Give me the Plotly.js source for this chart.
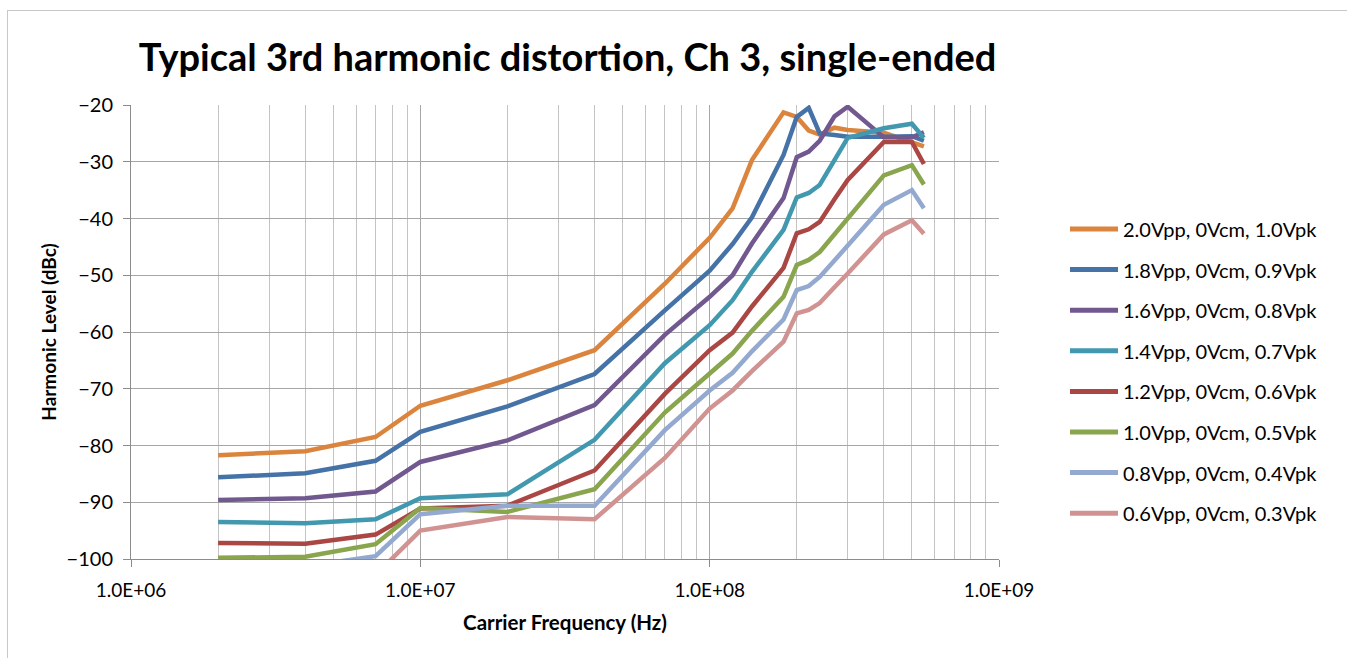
<!DOCTYPE html>
<html>
<head>
<meta charset="utf-8">
<script src="https://cdn.plot.ly/plotly-3.0.1.min.js"></script>
<style>
  html, body { margin: 0; padding: 0; background: #ffffff; overflow: hidden; }
  #frame { position: absolute; left: 7px; top: 10px; width: 1346px; height: 660px; border: 1px solid #c8c8c8; box-sizing: border-box; }
  #chart { position: absolute; left: 0; top: 0; width: 1347px; height: 658px; }
</style>
</head>
<body>
<div id="frame"></div>
<div id="chart"></div>
<script>
// Carrier frequency (Hz)
const freqHz = [2e6, 4e6, 7e6, 1e7, 2e7, 4e7, 7e7, 1e8, 1.2e8, 1.4e8, 1.8e8, 2e8, 2.2e8, 2.4e8, 2.7e8, 3e8, 4e8, 5e8, 5.5e8];

// Harmonic level (dBc) per input level
const s20 = [-81.7, -81.0, -78.5, -73.0, -68.5, -63.2, -51.5, -43.4, -38.2, -29.7, -21.3, -22.1, -24.5, -25.2, -24.0, -24.4, -24.9, -26.5, -27.3];
const s18 = [-85.6, -84.9, -82.7, -77.6, -73.1, -67.4, -56.2, -49.2, -44.5, -39.8, -28.8, -22.1, -20.5, -25.0, -25.3, -25.6, -25.6, -25.5, -26.3];
const s16 = [-89.6, -89.3, -88.1, -82.9, -79.1, -72.9, -60.5, -53.8, -50.0, -44.4, -36.4, -29.2, -28.2, -26.3, -22.0, -20.3, -25.7, -25.7, -24.8];
const s14 = [-93.5, -93.7, -93.0, -89.3, -88.6, -79.0, -65.5, -58.8, -54.4, -49.4, -42.0, -36.3, -35.5, -34.1, -29.7, -25.8, -24.1, -23.3, -25.8];
const s12 = [-97.2, -97.3, -95.7, -91.1, -90.6, -84.4, -70.9, -63.2, -60.1, -55.5, -48.7, -42.6, -41.9, -40.6, -36.6, -33.2, -26.5, -26.5, -30.4];
const s10 = [-99.8, -99.6, -97.4, -91.0, -91.7, -87.7, -74.2, -67.3, -63.8, -59.8, -53.8, -48.2, -47.3, -45.9, -42.8, -40.1, -32.4, -30.6, -34.0];
const s08 = [-101.5, -101.3, -99.5, -92.1, -90.6, -90.6, -77.3, -70.3, -67.2, -63.4, -57.8, -52.6, -51.9, -50.3, -47.4, -44.8, -37.6, -35.0, -38.2];
const s06 = [-105.0, -104.5, -102.8, -95.0, -92.6, -93.0, -82.2, -73.5, -70.3, -66.9, -61.7, -56.7, -56.1, -54.9, -52.1, -49.7, -42.8, -40.3, -42.7];

const seriesNames = [
  "2.0Vpp, 0Vcm, 1.0Vpk",
  "1.8Vpp, 0Vcm, 0.9Vpk",
  "1.6Vpp, 0Vcm, 0.8Vpk",
  "1.4Vpp, 0Vcm, 0.7Vpk",
  "1.2Vpp, 0Vcm, 0.6Vpk",
  "1.0Vpp, 0Vcm, 0.5Vpk",
  "0.8Vpp, 0Vcm, 0.4Vpk",
  "0.6Vpp, 0Vcm, 0.3Vpk"
];
const seriesValues = [s20, s18, s16, s14, s12, s10, s08, s06];
const seriesColors = ["#DB843D", "#4572A7", "#71588F", "#4198AF", "#AA4643", "#89A54E", "#93A9CF", "#D19392"];

const xTickVals = [1e6, 1e7, 1e8, 1e9];
const xTickText = ["1.0E+06", "1.0E+07", "1.0E+08", "1.0E+09"];
const yTickVals = [-20, -30, -40, -50, -60, -70, -80, -90, -100];

const FONT = "Lato, 'Open Sans', 'Liberation Sans', sans-serif";

// plot area geometry (px)
const W = 1347, H = 658;
const M = { l: 131, r: 348, t: 105, b: 99 };
const plotW = W - M.l - M.r, plotH = H - M.t - M.b;

const traces = seriesNames.map((name, i) => ({
  type: "scatter",
  mode: "lines",
  name: name,
  x: freqHz,
  y: seriesValues[i],
  line: { color: seriesColors[i], width: 4.5 },
  cliponaxis: true,
  hoverinfo: "skip",
  showlegend: false
}));

// custom legend (long line samples as in the reference)
const legTop = 229, legStep = 40.6, legLine0 = 1070, legLine1 = 1118, legText = 1121;
const shapes = [];
const annotations = [];
seriesNames.forEach((name, i) => {
  const yc = legTop + i * legStep;
  const yp = (H - M.b - yc) / plotH;
  shapes.push({
    type: "line", xref: "paper", yref: "paper",
    x0: (legLine0 - M.l) / plotW, x1: (legLine1 - M.l) / plotW,
    y0: yp, y1: yp,
    line: { color: seriesColors[i], width: 5 }
  });
  annotations.push({
    xref: "paper", yref: "paper",
    x: (legText - M.l) / plotW, y: yp,
    xanchor: "left", yanchor: "middle",
    text: name, showarrow: false,
    font: { family: FONT, size: 20, color: "#000000" }
  });
});

const layout = {
  width: W,
  height: H,
  paper_bgcolor: "rgba(0,0,0,0)",
  plot_bgcolor: "#ffffff",
  margin: { l: M.l, r: M.r, t: M.t, b: M.b, pad: 0 },
  font: { family: FONT, color: "#000000", size: 16 },
  title: {
    text: "<b>Typical 3rd harmonic distortion, Ch 3, single-ended</b>",
    font: { family: FONT, size: 38, color: "#000000" },
    x: 0.503, xref: "paper", xanchor: "center",
    y: 0.913, yref: "container", yanchor: "middle"
  },
  showlegend: false,
  shapes: shapes,
  annotations: annotations,
  xaxis: {
    type: "log",
    range: [6, 9],
    tickmode: "array",
    tickvals: xTickVals,
    ticktext: xTickText,
    ticks: "outside",
    ticklen: 7,
    tickcolor: "#8c8c8c",
    tickfont: { family: FONT, size: 19, color: "#000000" },
    ticklabelstandoff: 7,
    showgrid: true,
    gridcolor: "#a6a6a6",
    gridwidth: 1,
    showline: true,
    linecolor: "#8c8c8c",
    linewidth: 1,
    zeroline: false,
    minor: { dtick: "D1", showgrid: true, gridcolor: "#c4c4c4", gridwidth: 1, ticks: "" },
    title: {
      text: "<b>Carrier Frequency (Hz)</b>",
      font: { family: FONT, size: 20.5, color: "#000000" },
      standoff: 15
    }
  },
  yaxis: {
    range: [-100, -20],
    tickmode: "array",
    tickvals: yTickVals,
    ticks: "outside",
    ticklen: 7,
    tickcolor: "#8c8c8c",
    tickfont: { family: FONT, size: 20, color: "#000000" },
    ticklabelstandoff: 6,
    showgrid: true,
    gridcolor: "#a6a6a6",
    gridwidth: 1,
    showline: true,
    linecolor: "#8c8c8c",
    linewidth: 1,
    zeroline: false,
    title: {
      text: "<b>Harmonic Level (dBc)</b>",
      font: { family: FONT, size: 19, color: "#000000" },
      standoff: 4
    }
  }
};

Plotly.newPlot("chart", traces, layout, { staticPlot: true, displayModeBar: false });
</script>
</body>
</html>
